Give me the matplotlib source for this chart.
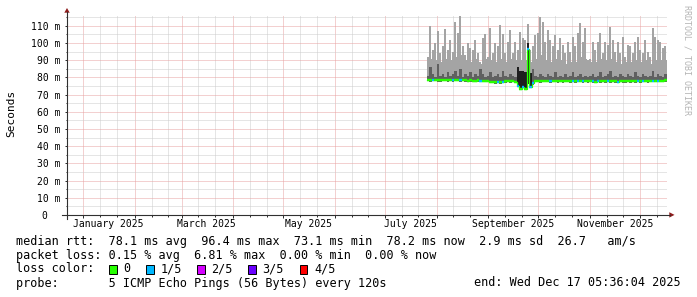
import matplotlib
matplotlib.use("Agg")
import matplotlib.pyplot as plt
import matplotlib.dates as mdates
from matplotlib.lines import Line2D
from matplotlib.patches import Rectangle, Polygon
from matplotlib.ticker import MultipleLocator, FuncFormatter, NullFormatter
from datetime import datetime, timedelta

W, H, DPI = 697, 297, 100
MONO = "DejaVu Sans Mono"

# ── Data (ms) ─────────────────────────────────────────────────────────────
END = datetime(2025, 12, 17, 5, 36, 4)
SPAN_DAYS = 360
BIN_START = datetime(2025, 7, 26)
BIN_DAYS = 1.5

# slowest ping per bin (light smoke spikes)
rtt_max = [
    92, 110, 96, 100, 107, 94, 98, 108, 96, 102,
    95, 112, 106, 116, 98, 93, 100, 97, 96, 102,
    94, 89, 103, 105, 92, 108.5, 94, 100, 98, 110.5,
    105, 94, 100.8, 107.6, 94, 100.8, 96, 106.6, 102.7, 101.7,
    111, 96, 98, 104.7, 105.7, 115.4, 112.5, 100.8, 107.6, 101.7,
    98, 104.7, 96, 102.7, 98.8, 94, 100.8, 95, 103.7, 98,
    105.7, 111.5, 100.8, 108.6, 90, 91, 100.8, 96, 100.8, 105.7,
    94, 100.8, 98.8, 109.5, 101.7, 95, 100.8, 94, 103.7, 92,
    98.8, 98, 94, 100.8, 103.7, 96, 94, 101.7, 95, 92,
    108.6, 103.7, 101.7, 100.8, 97, 98, 95]

# continuous body of the light smoke
rtt_body = [
    90, 91, 89, 90, 92, 89, 90, 91, 89, 90,
    91, 92, 90, 93, 89, 90, 91, 89, 90, 91,
    89, 88, 90, 91, 89, 90, 88, 89, 90, 91,
    90, 89, 90, 91, 89, 90, 91, 90, 89, 90,
    92, 89, 90, 91, 92, 93, 92, 90, 91, 89,
    90, 91, 89, 90, 89, 88, 90, 89, 91, 89,
    90, 92, 90, 91, 88, 89, 90, 89, 90, 91,
    89, 90, 89, 91, 90, 89, 90, 88, 90, 89,
    90, 89, 88, 90, 91, 89, 88, 90, 89, 88,
    91, 90, 89, 90, 89, 90, 89]

# 4th ping (top of dark smoke)
rtt_dark = [
    81, 86, 82, 80.5, 88, 81, 82, 80.5, 83, 81,
    82, 84, 81, 85, 80.5, 82, 81, 83, 80.5, 82,
    81, 85, 82, 80.5, 81, 83, 80, 81, 82, 80,
    84, 81, 80.5, 82, 81, 80.5, 86, 84, 84, 83,
    100, 82.4, 85, 81, 80.5, 82, 81, 80.5, 82, 81,
    80.5, 83, 80.5, 81, 80.5, 82, 80.5, 81, 83, 80.5,
    81, 82, 80.5, 81, 80.5, 81, 82, 80.5, 81, 83,
    80.5, 81, 82, 84, 80.5, 81, 80.5, 82, 81, 80.5,
    82, 81, 80.5, 83, 81, 80.5, 82, 81, 80.5, 81,
    84, 80.5, 82, 81, 80.5, 82, 81]

rtt_median = [
    78.6, 78.4, 78.5, 78.7, 78.5, 78.4, 78.6, 78.5, 78.3, 78.5,
    78.4, 78.6, 78.5, 78.3, 78.5, 78.4, 78.2, 78.3, 78.1, 78.2,
    78.3, 78.0, 78.2, 78.1, 77.9, 77.6, 77.3, 77.2, 77.4, 77.1,
    77.6, 77.8, 78.0, 77.7, 77.9, 77.6, 75.0, 73.5, 74.4, 73.1,
    96.4, 74.5, 76.6, 77.9, 78.1, 77.8, 78.0, 77.9, 78.1, 77.8,
    78.0, 77.9, 77.7, 78.0, 77.8, 78.1, 77.9, 77.7, 78.0, 77.8,
    77.9, 78.1, 77.8, 78.0, 77.7, 77.9, 77.8, 77.6, 77.9, 77.7,
    77.9, 77.8, 78.0, 77.7, 77.9, 77.8, 77.6, 77.9, 77.8, 77.7,
    77.9, 77.8, 78.0, 77.7, 77.9, 77.8, 78.1, 77.9, 77.8, 78.0,
    77.9, 78.1, 78.0, 78.2, 78.1, 78.3, 78.2]

rtt_min = [
    77.8, 77.6, 77.7, 77.9, 77.6, 77.6, 77.8, 77.7, 77.5, 77.7,
    77.6, 77.8, 77.7, 77.5, 77.7, 77.6, 77.4, 77.5, 77.3, 77.4,
    77.5, 77.2, 77.4, 77.3, 77.1, 76.8, 76.5, 76.4, 76.6, 76.3,
    76.8, 77.0, 77.2, 76.9, 77.1, 76.8, 74.5, 72.7, 73.7, 72.7,
    76.0, 73.7, 75.8, 77.1, 77.3, 77.0, 77.2, 77.1, 77.3, 77.0,
    77.2, 77.1, 76.9, 77.2, 77.0, 77.3, 77.1, 76.9, 77.2, 77.0,
    77.1, 77.3, 77.0, 77.2, 76.9, 77.1, 77.0, 76.8, 77.1, 76.9,
    77.1, 77.0, 77.2, 76.9, 77.1, 77.0, 76.8, 77.1, 77.0, 76.9,
    77.1, 77.0, 77.2, 76.9, 77.1, 77.0, 77.3, 77.1, 77.0, 77.2,
    77.1, 77.3, 77.2, 77.4, 77.3, 77.5, 77.4]

dense_bins = [36, 37, 38, 39, 40, 41]          # near-black smoke
lossy_bins = [2, 10, 13, 21, 28, 30, 36, 38, 40, 41, 42, 49, 58, 60,
              62, 66, 68, 72, 76, 84, 86, 90, 92]   # 1/5 loss

month_labels = ["January 2025", "March 2025", "May 2025",
                "July 2025", "September 2025", "November 2025"]
month_label_dates = [datetime(2025, m, 16) for m in (1, 3, 5, 7, 9, 11)]

loss_names = ["0", "1/5", "2/5", "3/5", "4/5"]
loss_colors = ["#26ff00", "#00b8ff", "#d400ff", "#6a00ff", "#ff0000"]

legend_lines = [
    "median rtt:  78.1 ms avg  96.4 ms max  73.1 ms min  78.2 ms now  2.9 ms sd  26.7   am/s",
    "packet loss: 0.15 % avg  6.81 % max  0.00 % min  0.00 % now",
    "loss color:",
    "probe:       5 ICMP Echo Pings (56 Bytes) every 120s",
]
end_text = "end: Wed Dec 17 05:36:04 2025"

# ── Style ────────────────────────────────────────────────────────────────
C_LIGHT, C_DARK, C_DENSE = "#a4a4a4", "#606060", "#1e1e1e"
C_MGRID, C_GRID = "#e8a2a2", "#cdcdcd"
C_AXIS, C_ARROW = "#303030", "#8e1c1c"
FS_LEG = 8.45


def fpx(x, y):
    """image pixel -> figure fraction"""
    return x / W, 1 - y / H


def main():
    fig = plt.figure(figsize=(W / DPI, H / DPI), dpi=DPI)
    fig.patch.set_facecolor("white")
    ax = fig.add_axes([67 / W, (H - 215) / H, 600 / W, 200 / H])
    ax.set_facecolor("white")

    ax.set_xlim(END - timedelta(days=SPAN_DAYS), END)
    ax.set_ylim(0, 116.3)

    n = len(rtt_median)
    times = [BIN_START + timedelta(days=BIN_DAYS * i) for i in range(n)]
    ends = [t + timedelta(days=BIN_DAYS) for t in times]
    width = timedelta(days=BIN_DAYS)
    lo = rtt_min

    # smoke
    ax.bar(times, [a - b for a, b in zip(rtt_body, lo)], bottom=lo, width=width,
           align="edge", color=C_LIGHT, lw=0, zorder=2)
    ax.bar([t + width / 2 for t in times], [a - b for a, b in zip(rtt_max, lo)],
           bottom=lo, width=timedelta(days=1.2), align="center",
           color=C_LIGHT, lw=0, zorder=2)
    ax.bar(times, [a - b for a, b in zip(rtt_dark, lo)], bottom=lo, width=width,
           align="edge", color=C_DARK, lw=0, zorder=3)
    ax.bar([times[i] for i in dense_bins],
           [rtt_dark[i] - lo[i] for i in dense_bins],
           bottom=[lo[i] for i in dense_bins], width=width,
           align="edge", color=C_DENSE, lw=0, zorder=4)

    # median, coloured by loss
    seg_cols = [loss_colors[1] if i in lossy_bins else loss_colors[0] for i in range(n)]
    ax.step(times + [ends[-1]], rtt_median + [rtt_median[-1]], where="post",
            color=loss_colors[0], lw=0.9, zorder=5)
    ax.hlines(rtt_median, times, ends, colors=seg_cols, lw=1.7, zorder=6)

    # grid
    ax.xaxis.set_major_locator(mdates.MonthLocator())
    ax.xaxis.set_minor_locator(mdates.DayLocator(bymonthday=[11, 21]))
    ax.xaxis.set_major_formatter(NullFormatter())
    ax.yaxis.set_major_locator(MultipleLocator(10))
    ax.yaxis.set_minor_locator(MultipleLocator(5))
    ax.yaxis.set_major_formatter(FuncFormatter(
        lambda v, p: f"{int(round(v))} m" if v > 0 else "0  "))
    ax.set_axisbelow(True)
    ax.grid(which="minor", color=C_GRID, lw=0.72, ls=(0, (1, 1)))
    ax.grid(which="major", color=C_MGRID, lw=0.72, ls=(0, (1, 1)))
    for s in ax.spines.values():
        s.set_visible(False)
    ax.tick_params(axis="both", which="both", color=C_AXIS, width=0.72)
    ax.tick_params(axis="x", which="major", length=2.5)
    ax.tick_params(axis="x", which="minor", length=1.5)
    ax.tick_params(axis="y", which="major", length=1.5, pad=3.5,
                   labelsize=7, labelcolor="black")
    ax.tick_params(axis="y", which="minor", length=1.0)
    for lab in ax.get_yticklabels():
        lab.set_family(MONO)

    xt = ax.get_xaxis_transform()
    for d, s in zip(month_label_dates, month_labels):
        ax.text(d, -0.045, s, transform=xt, ha="center", va="center",
                fontsize=7, family=MONO, color="black")

    # axis lines with arrows
    fig.add_artist(Line2D(*zip(fpx(62, 215), fpx(670, 215)), color=C_AXIS, lw=0.8))
    fig.add_artist(Line2D(*zip(fpx(67, 219), fpx(67, 12)), color=C_AXIS, lw=0.8))
    fig.add_artist(Polygon([fpx(64.3, 12.7), fpx(69.7, 12.7), fpx(67, 8)],
                           closed=True, color=C_ARROW, lw=0))
    fig.add_artist(Polygon([fpx(669.3, 212.2), fpx(669.3, 217.6), fpx(674.5, 214.9)],
                           closed=True, color=C_ARROW, lw=0))

    fig.text(*fpx(11, 113), "Seconds", rotation=90, ha="center", va="center",
             fontsize=8, family=MONO)
    fig.text(*fpx(687, 60), "RRDTOOL / TOBI OETIKER", rotation=270,
             ha="center", va="center", fontsize=6, family=MONO, color="#b4b4b4")

    # legend
    for y, s in zip((241, 255, 269, 283), legend_lines):
        fig.text(*fpx(16, y), s, ha="left", va="center", fontsize=FS_LEG, family=MONO)
    fig.text(*fpx(681, 283), end_text, ha="right", va="center",
             fontsize=FS_LEG, family=MONO)

    bx = [109, 146, 197, 248, 299.5]
    for x, name, col in zip(bx, loss_names, loss_colors):
        fx, fy = fpx(x, 273.5)
        fig.add_artist(Rectangle((fx, fy), 7.5 / W, 9 / H, facecolor=col,
                                 edgecolor="black", lw=0.7))
        fig.text(*fpx(x + 14.5, 269), name, ha="left", va="center",
                 fontsize=FS_LEG, family=MONO)

    fig.savefig("out.png", dpi=DPI, facecolor="white")
    plt.close(fig)


if __name__ == "__main__":
    main()
